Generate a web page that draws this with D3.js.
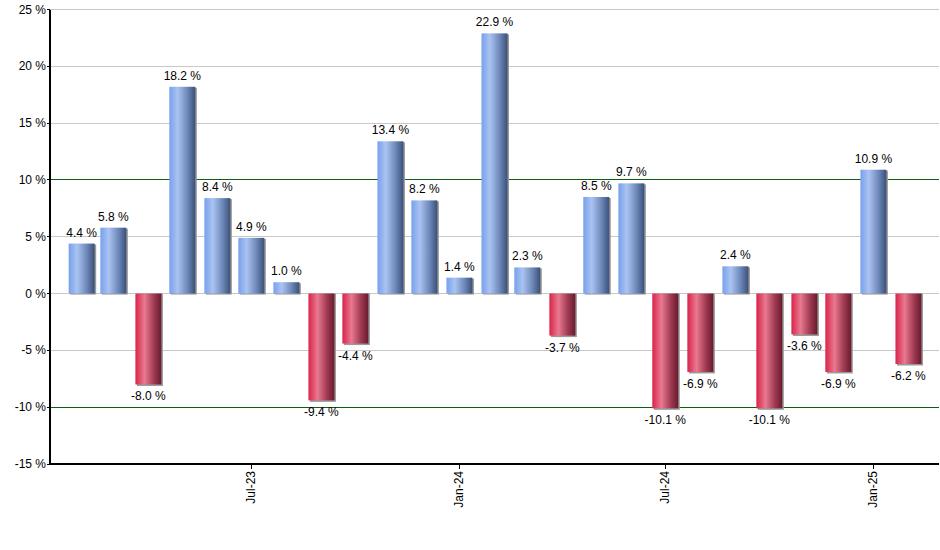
<!DOCTYPE html>
<html>
<head>
<meta charset="utf-8">
<script src="https://d3js.org/d3.v7.min.js"></script>
<style>
  body { margin: 0; background: #fff; }
  svg text { font-family: "Liberation Sans", Arial, sans-serif; font-size: 12px; fill: #000; }
  svg line { shape-rendering: crispEdges; }
</style>
</head>
<body>
<script>
// monthly returns, Feb-23 .. Feb-25
const months = ['2023-02','2023-03','2023-04','2023-05','2023-06','2023-07','2023-08','2023-09',
  '2023-10','2023-11','2023-12','2024-01','2024-02','2024-03','2024-04','2024-05','2024-06',
  '2024-07','2024-08','2024-09','2024-10','2024-11','2024-12','2025-01','2025-02']
const values = [4.4, 5.8, -8.0, 18.2, 8.4, 4.9, 1.0, -9.4, -4.4, 13.4, 8.2, 1.4, 22.9, 2.3, -3.7,
  8.5, 9.7, -10.1, -6.9, 2.4, -10.1, -3.6, -6.9, 10.9, -6.2]
const yTicks = [25, 20, 15, 10, 5, 0, -5, -10, -15]
const xTickMonths = ['2023-07', '2024-01', '2024-07', '2025-01']
const refLines = [10, -10]

const width = 940, height = 550
const plot = { left: 50, right: 939, top: 9.5, bottom: 464 }
const parse = d3.timeParse('%Y-%m')
const data = months.map((m, i) => ({ date: parse(m), v: values[i] }))

const svg = d3.select('body').append('svg')
    .attr('width', width).attr('height', height)

const defs = svg.append('defs')
const grad = (id, stops) => {
  const g = defs.append('linearGradient').attr('id', id)
      .attr('x1', 0).attr('x2', 1).attr('y1', 0).attr('y2', 0)
  stops.forEach(s => g.append('stop').attr('offset', s[0]).attr('stop-color', s[1]))
}
grad('blue', [[0, '#77a0ec'], [0.32, '#aac3f2'], [0.7, '#6d88b8'], [1, '#3a5078']])
grad('red', [[0, '#d9234a'], [0.35, '#e9798f'], [0.7, '#a23c55'], [1, '#691a2c']])

const x = d3.scaleTime()
    .domain([d3.timeDay.offset(data[0].date, -28), d3.timeDay.offset(data[data.length - 1].date, 27)])
    .range([plot.left, plot.right])
const y = d3.scaleLinear().domain([-15, 25]).range([plot.bottom, plot.top])

// gridlines
svg.append('g').selectAll('line')
  .data(yTicks.filter(t => t !== -15))
  .join('line')
    .attr('x1', plot.left).attr('x2', plot.right)
    .attr('y1', d => y(d)).attr('y2', d => y(d))
    .attr('stroke', d => refLines.includes(d) ? '#0b600b' : '#c8c8c8')
    .attr('stroke-width', 1)

// bars
const bw = 26
const bars = svg.append('g')
bars.selectAll('rect.shadow')
  .data(data)
  .join('rect')
    .attr('class', 'shadow')
    .attr('x', d => x(d.date) - bw / 2 + 1.5)
    .attr('y', d => Math.min(y(d.v), y(0)) + (d.v > 0 ? 1 : 0))
    .attr('width', bw)
    .attr('height', d => Math.abs(y(d.v) - y(0)) + (d.v < 0 ? 1.5 : 0))
    .attr('fill', '#9a9a9a')
bars.selectAll('rect.bar')
  .data(data)
  .join('rect')
    .attr('class', 'bar')
    .attr('x', d => x(d.date) - bw / 2)
    .attr('y', d => Math.min(y(d.v), y(0)))
    .attr('width', bw)
    .attr('height', d => Math.abs(y(d.v) - y(0)))
    .attr('fill', d => d.v >= 0 ? 'url(#blue)' : 'url(#red)')

// value labels
svg.append('g').selectAll('text')
  .data(data)
  .join('text')
    .attr('x', d => x(d.date))
    .attr('y', d => d.v >= 0 ? y(d.v) - 7 : y(d.v) + 16)
    .attr('text-anchor', 'middle')
    .text(d => d.v.toFixed(1) + ' %')

// y axis
const yAxis = svg.append('g')
yAxis.append('line')
    .attr('x1', plot.left).attr('x2', plot.left).attr('y1', plot.top).attr('y2', plot.bottom)
    .attr('stroke', '#000').attr('stroke-width', 1.3)
yAxis.selectAll('line.tk')
  .data(yTicks)
  .join('line')
    .attr('class', 'tk')
    .attr('x1', plot.left - 3).attr('x2', plot.left)
    .attr('y1', d => y(d)).attr('y2', d => y(d))
    .attr('stroke', '#000')
yAxis.selectAll('text')
  .data(yTicks)
  .join('text')
    .attr('x', plot.left - 4)
    .attr('y', d => y(d) + 4)
    .attr('text-anchor', 'end')
    .text(d => d + ' %')

// x axis
const xAxis = svg.append('g')
xAxis.append('line')
    .attr('x1', plot.left).attr('x2', plot.right).attr('y1', plot.bottom).attr('y2', plot.bottom)
    .attr('stroke', '#000').attr('stroke-width', 1.3)
const xt = xTickMonths.map(parse)
xAxis.selectAll('line.tk')
  .data(xt)
  .join('line')
    .attr('class', 'tk')
    .attr('x1', d => x(d)).attr('x2', d => x(d))
    .attr('y1', plot.bottom).attr('y2', plot.bottom + 5)
    .attr('stroke', '#000')
xAxis.selectAll('text')
  .data(xt)
  .join('text')
    .attr('transform', d => `translate(${x(d) + 4},${plot.bottom + 7}) rotate(-90)`)
    .attr('text-anchor', 'end')
    .text(d => d3.timeFormat('%b-%y')(d))
</script>
</body>
</html>
